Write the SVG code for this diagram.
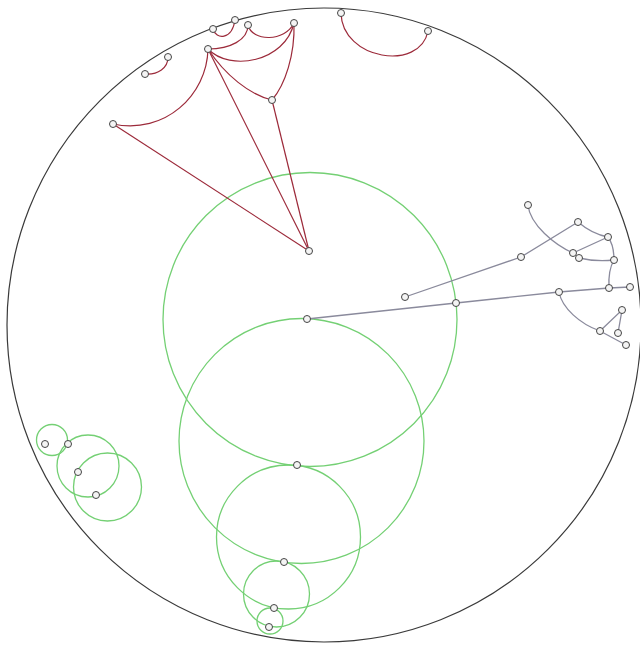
<svg xmlns="http://www.w3.org/2000/svg" width="640" height="647" viewBox="0 0 640 647">
<style>
.bd{fill:none;stroke:#3a3a3a;stroke-width:1.2}
.gc{fill:none;stroke:#74d074;stroke-width:1.3}
.r{fill:none;stroke:#9c2a3a;stroke-width:1.2}
.g{fill:none;stroke:#8a8a9c;stroke-width:1.3}
.n{fill:#f4f4f4;stroke:#444;stroke-width:1}
</style>
<rect width="640" height="647" fill="#ffffff"/>
<circle class="bd" cx="324" cy="325" r="317"/>
<g id="circles">
<circle class="gc" cx="310" cy="319.5" r="147"/>
<circle class="gc" cx="301.5" cy="441" r="122.5"/>
<circle class="gc" cx="288.5" cy="537" r="72"/>
<circle class="gc" cx="276.5" cy="594" r="33"/>
<circle class="gc" cx="270" cy="621" r="13"/>
<circle class="gc" cx="52" cy="440" r="15.5"/>
<circle class="gc" cx="88" cy="466" r="31"/>
<circle class="gc" cx="107.5" cy="487" r="34"/>
</g>
<g id="connectors">
<path class="r" d="M213,29 C216,40 232,40 235,20"/>
<path class="r" d="M248,25 C248,40 230,49 208,49"/>
<path class="r" d="M248,25 C252,42 285,42 294,23"/>
<path class="r" d="M208,49 C230,72 285,62 294,23"/>
<path class="r" d="M168,57 C168,68 158,75 145,74"/>
<path class="r" d="M208,49 C225,75 250,95 272,100"/>
<path class="r" d="M294,23 C295,55 285,85 272,100"/>
<path class="r" d="M208,49 C207,95 165,135 113,124"/>
<path class="r" d="M341,13 C342,60 420,72 428,31"/>
<path class="r" d="M208,49 L309,251"/>
<path class="r" d="M272,100 L309,251"/>
<path class="r" d="M113,124 L309,251"/>
<path class="g" d="M405,297 L521,257 L578,222"/>
<path class="g" d="M528,205 C530,225 555,245 573,253"/>
<path class="g" d="M578,222 Q592,234 608,237"/>
<path class="g" d="M608,237 L573,253"/>
<path class="g" d="M579,258 Q596,262 614,260"/>
<path class="g" d="M608,237 Q614,245 614,260"/>
<path class="g" d="M614,260 Q608,270 609,288"/>
<path class="g" d="M307,319 L456,303 L559,292 L609,288 L630,287"/>
<path class="g" d="M559,292 C562,308 580,324 600,331"/>
<path class="g" d="M600,331 L622,310 L618,333"/>
<path class="g" d="M600,331 L626,345"/>
</g>
<g id="n1"><circle class="n" cx="213" cy="29" r="3.5"/></g>
<g id="n2"><circle class="n" cx="235" cy="20" r="3.5"/></g>
<g id="n3"><circle class="n" cx="248" cy="25" r="3.5"/></g>
<g id="n4"><circle class="n" cx="294" cy="23" r="3.5"/></g>
<g id="n5"><circle class="n" cx="208" cy="49" r="3.5"/></g>
<g id="n6"><circle class="n" cx="168" cy="57" r="3.5"/></g>
<g id="n7"><circle class="n" cx="145" cy="74" r="3.5"/></g>
<g id="n8"><circle class="n" cx="272" cy="100" r="3.5"/></g>
<g id="n9"><circle class="n" cx="113" cy="124" r="3.5"/></g>
<g id="n10"><circle class="n" cx="341" cy="13" r="3.5"/></g>
<g id="n11"><circle class="n" cx="428" cy="31" r="3.5"/></g>
<g id="n12"><circle class="n" cx="309" cy="251" r="3.5"/></g>
<g id="n13"><circle class="n" cx="528" cy="205" r="3.5"/></g>
<g id="n14"><circle class="n" cx="578" cy="222" r="3.5"/></g>
<g id="n15"><circle class="n" cx="608" cy="237" r="3.5"/></g>
<g id="n16"><circle class="n" cx="573" cy="253" r="3.5"/></g>
<g id="n17"><circle class="n" cx="579" cy="258" r="3.5"/></g>
<g id="n18"><circle class="n" cx="614" cy="260" r="3.5"/></g>
<g id="n19"><circle class="n" cx="521" cy="257" r="3.5"/></g>
<g id="n20"><circle class="n" cx="405" cy="297" r="3.5"/></g>
<g id="n21"><circle class="n" cx="456" cy="303" r="3.5"/></g>
<g id="n22"><circle class="n" cx="559" cy="292" r="3.5"/></g>
<g id="n23"><circle class="n" cx="609" cy="288" r="3.5"/></g>
<g id="n24"><circle class="n" cx="630" cy="287" r="3.5"/></g>
<g id="n25"><circle class="n" cx="622" cy="310" r="3.5"/></g>
<g id="n26"><circle class="n" cx="600" cy="331" r="3.5"/></g>
<g id="n27"><circle class="n" cx="618" cy="333" r="3.5"/></g>
<g id="n28"><circle class="n" cx="626" cy="345" r="3.5"/></g>
<g id="n29"><circle class="n" cx="307" cy="319" r="3.5"/></g>
<g id="n30"><circle class="n" cx="297" cy="465" r="3.5"/></g>
<g id="n31"><circle class="n" cx="284" cy="562" r="3.5"/></g>
<g id="n32"><circle class="n" cx="274" cy="608" r="3.5"/></g>
<g id="n33"><circle class="n" cx="269" cy="627" r="3.5"/></g>
<g id="n34"><circle class="n" cx="45" cy="444" r="3.5"/></g>
<g id="n35"><circle class="n" cx="68" cy="444" r="3.5"/></g>
<g id="n36"><circle class="n" cx="78" cy="472" r="3.5"/></g>
<g id="n37"><circle class="n" cx="96" cy="495" r="3.5"/></g>
</svg>
